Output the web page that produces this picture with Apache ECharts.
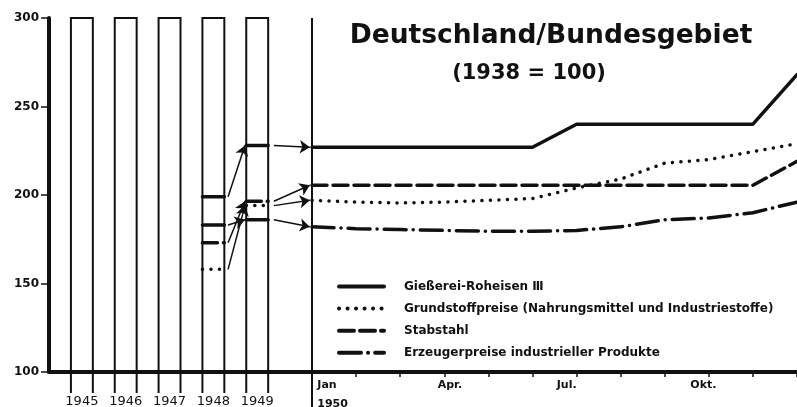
<!DOCTYPE html>
<html>
<head>
<meta charset="utf-8">
<script src="https://cdn.jsdelivr.net/npm/echarts@6/dist/echarts.min.js"></script>
<style>
  html, body { margin: 0; padding: 0; background: #fff; }
  #main { width: 797px; height: 407px; }
</style>
</head>
<body>
<div id="main"></div>
<script>
// Jahreswerte (Kästchen) und Monatswerte 1950
const years = ['1945', '1946', '1947', '1948', '1949'];
const monthTicks = [0, 3, 6, 9];
const monthLabels = ['Jan\n1950', 'Apr.', 'Jul.', 'Okt.'];
const seriesNames = [
    'Gießerei-Roheisen Ⅲ',
    'Grundstoffpreise (Nahrungsmittel und Industriestoffe)',
    'Stabstahl',
    'Erzeugerpreise industrieller Produkte'
];
// Jan..Dez 1950
const roheisen = [227, 227, 227, 227, 227, 227, 240, 240, 240, 240, 240, 268];
const grundstoff = [197, 196, 195.5, 196, 197, 198, 204, 209, 218, 220, 224.5, 229];
const stabstahl = [205.5, 205.5, 205.5, 205.5, 205.5, 205.5, 205.5, 205.5, 205.5, 205.5, 205.5, 219];
const erzeuger = [182, 181, 180.5, 180, 179.5, 179.5, 180, 182, 186, 187, 190, 196];
// Niveau 1948 / 1949, gleiche Reihenfolge wie seriesNames
const level1948 = [199, 158, 173, 183];
const level1949 = [228, 194, 196.5, 186];

const monthly = [roheisen, grundstoff, stabstahl, erzeuger];
const lineTypes = ['solid', [0.1, 8.4], [15, 6], [22, 7, 0.1, 7]];
const ink = '#111';
const font = 'DejaVu Sans';

// x-Einheiten im linken Teil: Kästchen i von 1+2i bis 2+2i, Trennlinie bei 12
const boxes = years.map((y, i) => [1 + 2 * i, 2 + 2 * i]);

const chart = echarts.init(document.getElementById('main'), null, { renderer: 'canvas' });

const series = [];
monthly.forEach((vals, i) => {
    series.push({
        name: seriesNames[i],
        type: 'line',
        xAxisIndex: 1,
        yAxisIndex: 1,
        data: vals.map((v, m) => [m, v]),
        showSymbol: false,
        symbol: 'none',
        itemStyle: { color: ink },
        lineStyle: { color: ink, width: 3.5, type: lineTypes[i], cap: 'round' },
        z: 3
    });
});
monthly.forEach((vals, i) => {
    series.push({
        name: seriesNames[i],
        type: 'line',
        xAxisIndex: 0,
        yAxisIndex: 0,
        data: [[7, level1948[i]], [8, level1948[i]], [8.5, '-'], [9, level1949[i]], [10, level1949[i]]],
        showSymbol: false,
        symbol: 'none',
        itemStyle: { color: ink },
        lineStyle: { color: ink, width: 3.5, type: lineTypes[i], cap: 'round' },
        z: 3
    });
});

// Pfeile 1948 -> 1949 -> Jan 1950
const arrows = [];
level1948.forEach((v, i) => {
    arrows.push({ coords: [[8.17, v], [8.94, level1949[i]]] });
    arrows.push({ coords: [[10.26, level1949[i]], [11.9, monthly[i][0]]] });
});
series.push({
    type: 'lines',
    coordinateSystem: 'cartesian2d',
    xAxisIndex: 0,
    yAxisIndex: 0,
    symbol: ['none', 'arrow'],
    symbolSize: [6, 10],
    lineStyle: { color: ink, width: 1.5, opacity: 1 },
    data: arrows,
    z: 4
});

// Kästchen der Jahre
series.push({
    type: 'custom',
    xAxisIndex: 0,
    yAxisIndex: 0,
    clip: false,
    silent: true,
    data: boxes,
    renderItem: function (params, api) {
        const tl = api.coord([api.value(0), 300]);
        const br = api.coord([api.value(1), 100]);
        return {
            type: 'polyline',
            shape: { points: [[tl[0], br[1] + 21], [tl[0], tl[1]], [br[0], tl[1]], [br[0], br[1] + 21]] },
            style: { stroke: ink, lineWidth: 2, fill: null }
        };
    }
});
// Trennlinie Jan 1950
series.push({
    type: 'custom',
    xAxisIndex: 0,
    yAxisIndex: 0,
    clip: false,
    silent: true,
    data: [[12]],
    renderItem: function (params, api) {
        const top = api.coord([api.value(0), 300]);
        const bot = api.coord([api.value(0), 100]);
        return {
            type: 'line',
            shape: { x1: top[0], y1: top[1], x2: bot[0], y2: bot[1] + 35 },
            style: { stroke: ink, lineWidth: 2 }
        };
    }
});

const option = {
    backgroundColor: '#fff',
    animation: false,
    title: [
        {
            text: 'Deutschland/Bundesgebiet',
            left: 546, top: 18, textAlign: 'center',
            textStyle: { fontFamily: font, fontSize: 26.5, fontWeight: 'bold', color: ink }
        },
        {
            text: '(1938 = 100)',
            left: 524, top: 58, textAlign: 'center',
            textStyle: { fontFamily: font, fontSize: 21, fontWeight: 'bold', color: ink }
        }
    ],
    legend: {
        data: seriesNames,
        orient: 'vertical',
        left: 337,
        top: 280.5,
        padding: 0,
        itemWidth: 45,
        itemHeight: 14,
        itemGap: 10.1,
        selectedMode: false,
        itemStyle: { opacity: 0 },
        lineStyle: { width: 4, cap: 'round' },
        textStyle: { fontFamily: font, fontSize: 12, fontWeight: 'bold', color: ink, padding: [0, 0, 0, 15] }
    },
    grid: [
        { left: 49, right: 485, top: 18, bottom: 35, outerBoundsMode: 'none' },
        { left: 312, right: 0, top: 18, bottom: 35, outerBoundsMode: 'none' }
    ],
    xAxis: [
        {
            gridIndex: 0, type: 'value', min: 0, max: 12,
            axisLine: { lineStyle: { color: ink, width: 4 } },
            axisTick: { show: false },
            splitLine: { show: false },
            axisLabel: {
                customValues: boxes.map(b => (b[0] + b[1]) / 2),
                formatter: v => years[Math.round((v - 1.5) / 2)],
                margin: 23,
                fontFamily: font, fontSize: 13, color: ink
            }
        },
        {
            gridIndex: 1, type: 'value', min: 0, max: 11, interval: 1,
            axisLine: { lineStyle: { color: ink, width: 4 } },
            axisTick: { show: true, length: 5, lineStyle: { color: ink, width: 1.5 } },
            splitLine: { show: false },
            axisLabel: {
                customValues: monthTicks.map((m, i) => m + [0.12, -0.15, -0.45, -0.42][i]),
                formatter: v => monthLabels[monthTicks.findIndex(m => Math.abs(m - v) < 0.5)],
                align: 'left',
                margin: 4,
                lineHeight: 18.5,
                fontFamily: font, fontSize: 11, fontWeight: 'bold', color: ink
            }
        }
    ],
    yAxis: [
        {
            gridIndex: 0, type: 'value', min: 100, max: 300, interval: 50,
            axisLine: { show: true, lineStyle: { color: ink, width: 4 } },
            axisTick: { show: true, length: 8, lineStyle: { color: ink, width: 1.5 } },
            splitLine: { show: false },
            axisLabel: { margin: 10, fontFamily: font, fontSize: 12, fontWeight: 'bold', color: ink }
        },
        {
            gridIndex: 1, type: 'value', min: 100, max: 300, interval: 50,
            show: false
        }
    ],
    series: series
};

chart.setOption(option);
</script>
</body>
</html>
